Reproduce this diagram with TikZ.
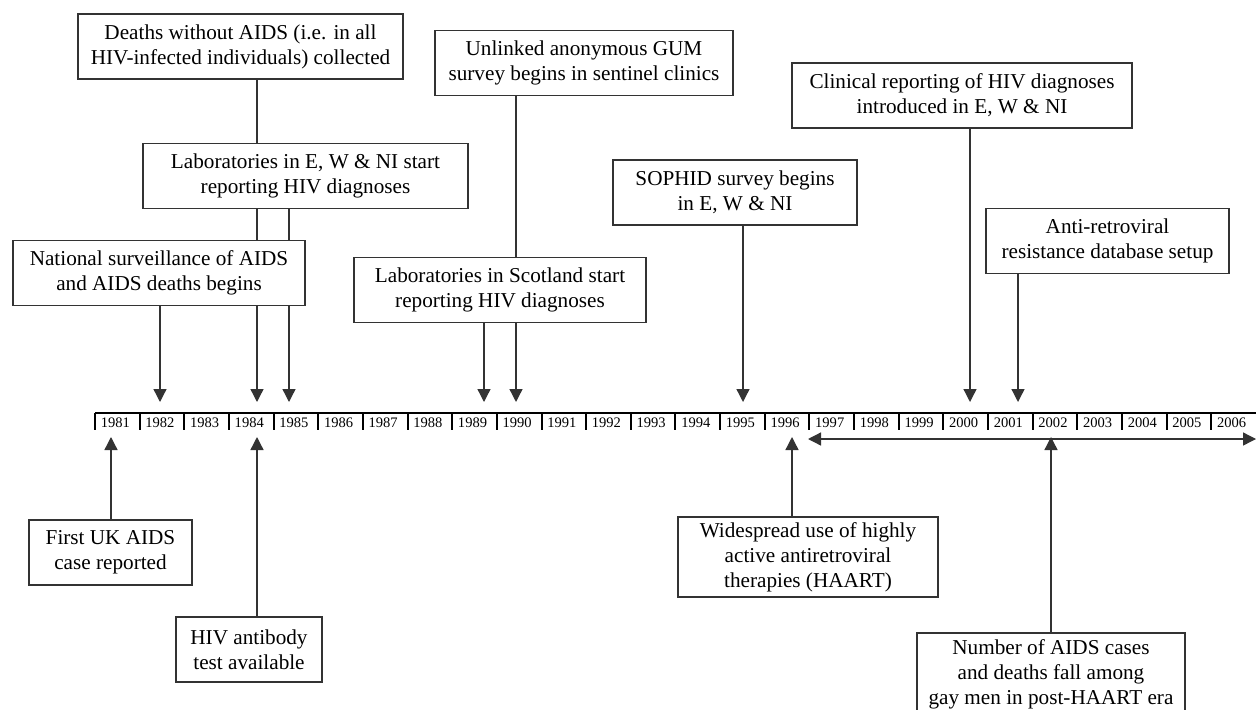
\documentclass[tikz,border=0pt]{standalone}
\usepackage{fontspec}
\setmainfont{Liberation Serif}
\usetikzlibrary{arrows.meta,backgrounds}

\tikzset{every picture/.style={line width=0.75pt}}
\tikzset{
  evbox/.style={draw=black!80, fill=white, line width=1pt, inner sep=0pt, align=center,
    font=\fontsize{15.9}{18.75}\selectfont, minimum height=48.75pt},
  evline/.style={draw=black!80, line width=1pt, -{Triangle[length=9.75pt,width=9.75pt]}},
  yearlbl/.style={anchor=center, font=\fontsize{10.9}{13}\selectfont}
}

\begin{document}
\begin{tikzpicture}[x=0.75pt,y=0.75pt,yscale=-1,xscale=1]

\useasboundingbox (0,0) rectangle (1256,710);
\clip (0,0) rectangle (1256,710);

%% ---------------- time axis ----------------
\draw [line width=1.5pt] (95,413) -- (1256,413) ;
\foreach \k in {0,...,25} {
  \draw [line width=1.5pt] ({95+44.65*\k},413) -- ({95+44.65*\k},430) ;
  \pgfmathtruncatemacro{\yr}{1981+\k}
  \node (y\yr) at ({95+44.65*(\k+0.5)-2},423) [yearlbl] {\yr};
}

%% arrow ends on the axis
\coordinate (d1982) at (160,402);
\coordinate (d1984) at (257,402);
\coordinate (d1985) at (289,402);
\coordinate (d1989) at (484,402);
\coordinate (d1990) at (516,402);
\coordinate (d1995) at (743,402);
\coordinate (d2000) at (970,402);
\coordinate (d2001) at (1018,402);
\coordinate (u1981) at (111,437);
\coordinate (u1984) at (257,437);
\coordinate (u1996) at (792,437);
\coordinate (u2002) at (1051,437);
\coordinate (haartL) at (808,439);
\coordinate (haartR) at (1256,439);

%% ---------------- events above the axis ----------------
\node (deaths) at (240.5,46.5) [evbox, minimum width=243.75pt] {Deaths without AIDS (i.e. in all\\HIV-infected individuals) collected};
\node (labewni) at (305.5,176) [evbox, minimum width=243.75pt] {Laboratories in E, W \& NI start\\reporting HIV diagnoses};
\node (national) at (159,273) [evbox, minimum width=219pt] {National surveillance of AIDS\\and AIDS deaths begins};
\node (gum) at (584,63) [evbox, minimum width=223.5pt] {Unlinked anonymous GUM\\survey begins in sentinel clinics};
\node (labscot) at (500,290) [evbox, minimum width=219pt] {Laboratories in Scotland start\\reporting HIV diagnoses};
\node (sophid) at (735,192.5) [evbox, minimum width=183pt] {SOPHID survey begins\\in E, W \& NI};
\node (clinical) at (962,95.5) [evbox, minimum width=255pt] {Clinical reporting of HIV diagnoses\\introduced in E, W \& NI};
\node (resist) at (1107.5,241) [evbox, minimum width=182.25pt] {Anti-retroviral\\resistance database setup};

%% ---------------- events below the axis ----------------
\node (firstuk) at (110.5,552.5) [evbox, minimum width=122.25pt] {First UK AIDS\\case reported};
\node (antibody) at (249,649.5) [evbox, minimum width=109.5pt] {HIV antibody\\test available};
\node (haart) at (808,557) [evbox, minimum width=195pt, minimum height=60pt] {Widespread use of highly\\active antiretroviral\\therapies (HAART)};
\node (fall) at (1051,674) [evbox, minimum width=201pt, minimum height=61.5pt] {Number of AIDS cases\\and deaths fall among\\gay men in post-HAART era};

%% ---------------- connectors ----------------
\begin{scope}[on background layer]
\draw [evline] (d1984 |- deaths.south) -- (d1984) ;
\draw [evline] (d1985 |- labewni.south) -- (d1985) ;
\draw [evline] (d1982 |- national.south) -- (d1982) ;
\draw [evline] (d1990 |- gum.south) -- (d1990) ;
\draw [evline] (d1989 |- labscot.south) -- (d1989) ;
\draw [evline] (d1995 |- sophid.south) -- (d1995) ;
\draw [evline] (d2000 |- clinical.south) -- (d2000) ;
\draw [evline] (d2001 |- resist.south) -- (d2001) ;
\draw [evline] (u1981 |- firstuk.north) -- (u1981) ;
\draw [evline] (u1984 |- antibody.north) -- (u1984) ;
\draw [evline] (u1996 |- haart.north) -- (u1996) ;
\draw [evline] (u2002 |- fall.north) -- (u2002) ;
\draw [evline, {Triangle[length=9.75pt,width=9.75pt]}-{Triangle[length=9.75pt,width=9.75pt]}] (haartL) -- (haartR) ;
\end{scope}

\end{tikzpicture}
\end{document}
